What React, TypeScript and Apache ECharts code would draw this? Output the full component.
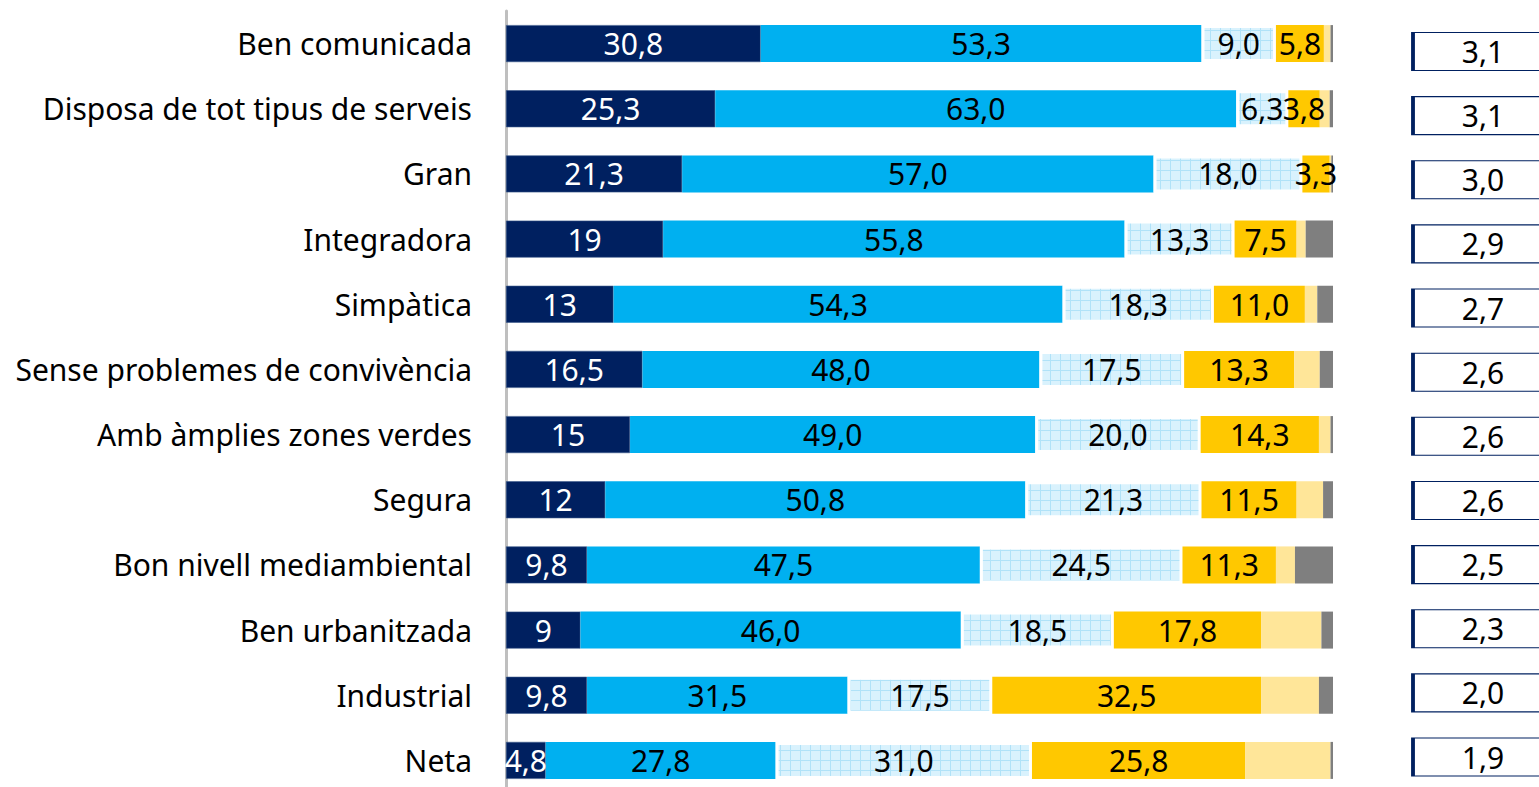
import React, { useEffect, useRef } from "react";
import * as echarts from "echarts";

const categories = [
  "Ben comunicada",
  "Disposa de tot tipus de serveis",
  "Gran",
  "Integradora",
  "Simpàtica",
  "Sense problemes de convivència",
  "Amb àmplies zones verdes",
  "Segura",
  "Bon nivell mediambiental",
  "Ben urbanitzada",
  "Industrial",
  "Neta",
];

const seriesNames = [
  "Molt d'acord",
  "Bastant d'acord",
  "Ni d'acord ni en desacord",
  "Poc d'acord",
  "Gens d'acord",
  "NS/NC",
];

const navy = [30.8, 25.3, 21.3, 19, 13, 16.5, 15, 12, 9.8, 9, 9.8, 4.8];
const blue = [53.3, 63.0, 57.0, 55.8, 54.3, 48.0, 49.0, 50.8, 47.5, 46.0, 31.5, 27.8];
const lightBlue = [9.0, 6.3, 18.0, 13.3, 18.3, 17.5, 20.0, 21.3, 24.5, 18.5, 17.5, 31.0];
const yellow = [5.8, 3.8, 3.3, 7.5, 11.0, 13.3, 14.3, 11.5, 11.3, 17.8, 32.5, 25.8];
const lightYellow = [0.8, 1.2, 0.2, 1.1, 1.5, 3.1, 1.4, 3.2, 2.3, 7.3, 7.0, 10.3];
const gray = [0.3, 0.4, 0.2, 3.3, 1.9, 1.6, 0.3, 1.2, 4.6, 1.4, 1.7, 0.3];

const means = [3.1, 3.1, 3.0, 2.9, 2.7, 2.6, 2.6, 2.6, 2.5, 2.3, 2.0, 1.9];

const FONT = "Noto Sans";
const FS = 30;

function makePattern() {
  const c = document.createElement("canvas");
  c.width = 10;
  c.height = 10;
  const ctx = c.getContext("2d");
  if (ctx) {
    ctx.fillStyle = "#d9f2fd";
    ctx.fillRect(0, 0, 10, 10);
    ctx.fillStyle = "#b0e2f8";
    ctx.fillRect(0, 0, 10, 1);
    ctx.fillRect(0, 0, 1, 10);
  }
  return c;
}

export default function App() {
  const ref = useRef<HTMLDivElement>(null);

  useEffect(() => {
    document.body.style.margin = "0";
    document.body.style.overflow = "hidden";
    if (!ref.current) return;
    const chart = echarts.init(ref.current, undefined, { renderer: "svg" });

    const comma = (v: number, fixed: boolean) =>
      (fixed ? v.toFixed(1) : String(v)).replace(".", ",");

    const mk = (
      name: string,
      data: number[],
      color: any,
      labelColor: string | null,
      fixed: boolean,
      extraStyle: any = {}
    ) => ({
      name,
      type: "bar",
      stack: "total",
      xAxisIndex: 0,
      yAxisIndex: 0,
      barWidth: 37,
      data,
      itemStyle: { color, ...extraStyle },
      label: labelColor
        ? {
            show: true,
            position: "inside",
            color: labelColor,
            fontFamily: FONT,
            fontSize: FS,
            formatter: (p: any) => comma(p.value, fixed),
          }
        : { show: false },
      emphasis: { disabled: true },
    });

    const pattern = { image: makePattern(), repeat: "repeat" };

    chart.setOption({
      animation: false,
      grid: [
        { left: 506, top: 11, width: 827, height: 782, containLabel: false, outerBoundsMode: "none" },
        { left: 1413, top: 19.4, width: 140, height: 769.7, containLabel: false, outerBoundsMode: "none" },
      ],
      xAxis: [
        { type: "value", min: 0, max: 100, show: false, gridIndex: 0 },
        { type: "value", min: 0, max: 1, show: false, gridIndex: 1 },
      ],
      yAxis: [
        {
          type: "category",
          data: categories,
          inverse: true,
          gridIndex: 0,
          axisLine: { show: true, lineStyle: { color: "#bfbfbf", width: 3 } },
          axisTick: { show: false },
          axisLabel: {
            color: "#000",
            fontFamily: FONT,
            fontSize: FS,
            margin: 34,
          },
        },
        {
          type: "category",
          data: categories,
          inverse: true,
          gridIndex: 1,
          show: false,
        },
      ],
      series: [
        mk(seriesNames[0], navy, "#002060", "#ffffff", false, {
          borderColor: "#3d5a8c",
          borderWidth: 0.6,
        }),
        mk(seriesNames[1], blue, "#00b0f0", "#000000", true),
        mk(seriesNames[2], lightBlue, pattern, "#000000", true, {
          borderColor: "#ffffff",
          borderWidth: 3,
        }),
        mk(seriesNames[3], yellow, "#ffc800", "#000000", true),
        mk(seriesNames[4], lightYellow, "#ffe699", null, true),
        mk(seriesNames[5], gray, "#7f7f7f", null, true),
        {
          name: "Mitjana",
          type: "scatter",
          xAxisIndex: 1,
          yAxisIndex: 1,
          clip: false,
          symbol: "rect",
          symbolSize: [140, 38],
          data: means.map((m, i) => [0.5, i, m]),
          itemStyle: { color: "#ffffff", borderColor: "#002060", borderWidth: 2, opacity: 1 },
          label: {
            show: true,
            position: "inside",
            color: "#000",
            fontFamily: FONT,
            fontSize: FS,
            formatter: (p: any) => comma(p.value[2], true),
          },
          emphasis: { disabled: true },
        },
      ],
    });

    return () => chart.dispose();
  }, []);

  return (
    <div style={{ width: 1539, height: 787, overflow: "hidden" }}>
      <div ref={ref} style={{ width: 1570, height: 810 }} />
    </div>
  );
}
